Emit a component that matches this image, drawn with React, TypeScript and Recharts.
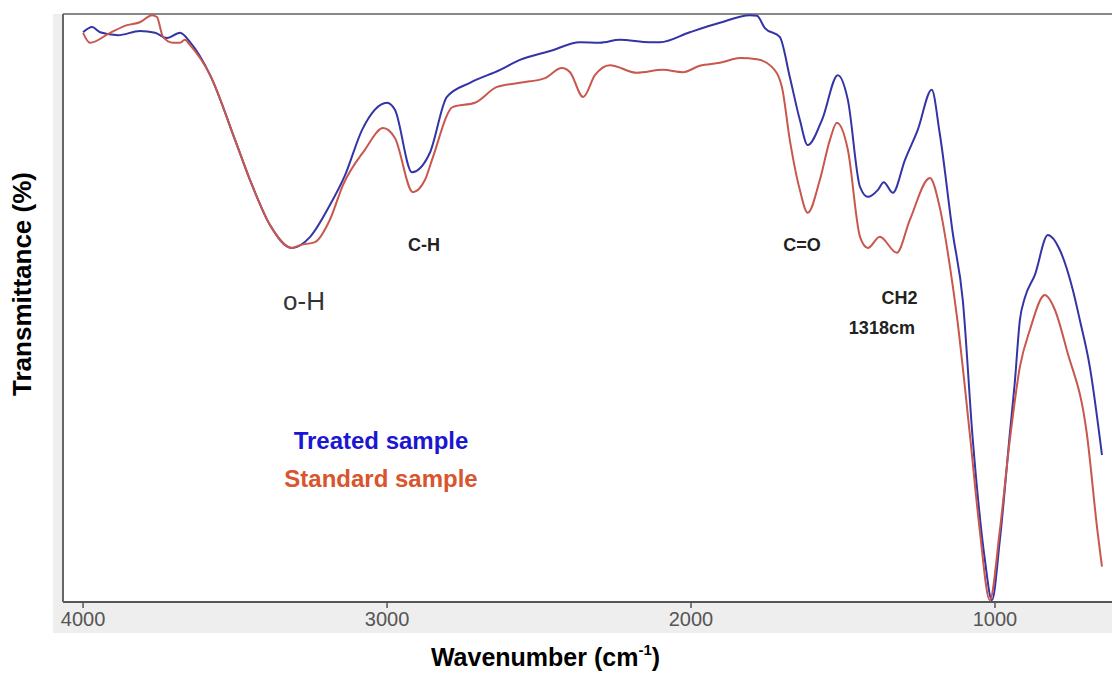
import React from 'react';
import {
  LineChart,
  Line,
  XAxis,
  YAxis,
  Legend,
  ReferenceLine,
  ReferenceDot
} from 'recharts';

// FTIR spectra: wavenumber (cm-1) vs transmittance (%)
const treatedWave = [4000, 3970, 3944, 3885, 3813, 3763, 3724, 3681, 3648, 3582, 3500, 3451, 3385, 3313, 3253, 3188, 3138, 3082, 3000, 2974, 2918, 2859, 2803, 2727, 2628, 2563, 2464, 2365, 2300, 2234, 2135, 2102, 2004, 1905, 1806, 1783, 1757, 1708, 1675, 1642, 1616, 1569, 1517, 1484, 1444, 1418, 1385, 1366, 1336, 1296, 1254, 1208, 1182, 1139, 1106, 1073, 1033, 1010, 984, 951, 935, 918, 902, 869, 826, 787, 744, 721, 688, 648];
const treatedT = [96.9, 97.8, 96.9, 96.4, 97.1, 96.8, 95.9, 96.8, 95.2, 89.6, 78.6, 71.8, 64.1, 60.2, 62.1, 67.5, 72.6, 80.3, 84.9, 83.7, 73.1, 76.4, 85.9, 88.3, 90.5, 92.2, 93.7, 95.2, 95.1, 95.6, 95.2, 95.2, 96.9, 98.5, 99.8, 99.7, 97.6, 96.1, 89.3, 82.0, 77.7, 82.0, 89.6, 85.4, 70.6, 68.9, 70.1, 71.4, 69.6, 75.2, 80.3, 87.1, 79.8, 62.8, 51.4, 27.6, 7.1, 0.3, 10.5, 28.7, 37.2, 48.0, 51.7, 55.6, 62.4, 59.9, 53.1, 48.0, 40.0, 25.0];

const standardWave = [4000, 3977, 3911, 3855, 3813, 3773, 3757, 3737, 3704, 3681, 3665, 3648, 3582, 3500, 3451, 3385, 3313, 3286, 3237, 3188, 3145, 3073, 3013, 2974, 2915, 2875, 2852, 2783, 2711, 2638, 2563, 2480, 2425, 2398, 2355, 2316, 2267, 2178, 2092, 2027, 1971, 1905, 1839, 1783, 1734, 1701, 1675, 1642, 1616, 1576, 1543, 1520, 1484, 1444, 1418, 1379, 1323, 1280, 1214, 1182, 1148, 1125, 1083, 1050, 1017, 984, 951, 918, 885, 836, 803, 764, 698, 662, 648];
const standardT = [96.8, 95.1, 96.8, 98.1, 98.6, 99.8, 99.5, 96.1, 95.1, 95.1, 95.6, 94.7, 89.6, 78.6, 71.8, 64.1, 60.2, 60.7, 61.2, 65.0, 70.9, 76.9, 80.6, 78.9, 69.7, 71.8, 75.2, 84.2, 84.9, 87.6, 88.3, 89.1, 90.8, 90.1, 85.9, 89.6, 91.3, 90.0, 90.5, 90.1, 91.2, 91.7, 92.5, 92.3, 91.0, 87.6, 78.6, 70.1, 66.2, 71.8, 78.6, 81.5, 76.9, 62.1, 60.2, 62.1, 59.4, 65.0, 72.1, 67.2, 57.0, 48.5, 28.7, 12.2, 0.3, 12.2, 27.6, 40.0, 46.3, 52.2, 49.7, 42.9, 28.7, 11.7, 6.0];

const xTicks = [4000, 3000, 2000, 1000];

// band annotations: text, wavenumber, transmittance where the text sits
const bandLabels = ['o-H', 'C-H', 'C=O', 'CH2', '1318cm'];
const bandWave = [3273, 2878, 1635, 1314, 1372];
const bandT = [51.2, 60.7, 60.7, 51.8, 46.7];

const seriesNames = ['Treated sample', 'Standard sample'];

const FONT = 'Liberation Sans, Arial, sans-serif';

const treatedData = treatedWave.map((w, i) => ({ w, t: treatedT[i] }));
const standardData = standardWave.map((w, i) => ({ w, t: standardT[i] }));

const legendColors: Record<string, string> = {
  'Treated sample': '#1a16d2',
  'Standard sample': '#d8552d'
};

const SampleLegend = ({ payload }: any) => {
  const items = [...(payload || [])].sort(
    (a: any, b: any) => seriesNames.indexOf(a.value) - seriesNames.indexOf(b.value)
  );
  return (
    <div style={{ fontFamily: FONT, fontWeight: 'bold', fontSize: 24, textAlign: 'center', width: 220 }}>
      {items.map((p: any) => (
        <div key={p.value} style={{ color: legendColors[p.value], lineHeight: '38px' }}>{p.value}</div>
      ))}
    </div>
  );
};

const YTitle = (props: any) => {
  const vb = props.viewBox || { x: 0, y: 14, width: 63, height: 588 };
  const cx = vb.x + 22;
  const cy = vb.y + vb.height / 2 - 24;
  return (
    <text
      x={cx}
      y={cy}
      transform={`rotate(-90, ${cx}, ${cy})`}
      textAnchor="middle"
      dominantBaseline="central"
      fontFamily={FONT}
      fontWeight="bold"
      fontSize={26}
      fill="#000"
    >
      Transmittance (%)
    </text>
  );
};

const XTitle = (props: any) => {
  const vb = props.viewBox || { x: 63, y: 602, width: 1049, height: 71 };
  const cx = vb.x + vb.width / 2 - 42;
  const by = vb.y + 64;
  return (
    <text x={cx} y={by} textAnchor="middle" fontFamily={FONT} fontWeight="bold" fontSize={25} fill="#000">
      Wavenumber (cm
      <tspan fontSize={15} dy={-11}>-1</tspan>
      <tspan dy={11}>)</tspan>
    </text>
  );
};

const App: React.FC = () => {
  return (
    <div style={{ position: 'absolute', left: 0, top: 0, width: 1112, height: 673, background: '#fff' }}>
      {/* light gray frame bands behind the plot */}
      <div style={{ position: 'absolute', left: 53, top: 602, width: 1059, height: 31, background: '#eeeeee' }} />
      <div style={{ position: 'absolute', left: 53, top: 14, width: 10, height: 590, background: '#eeeeee' }} />
      <div style={{ position: 'absolute', left: 0, top: 0 }}>
        <LineChart width={1112} height={673} margin={{ top: 14, right: 0, left: 0, bottom: 0 }}>
          <XAxis
            type="number"
            dataKey="w"
            domain={[615, 4066]}
            reversed
            allowDataOverflow
            ticks={xTicks}
            height={71}
            tickSize={6}
            tickMargin={4}
            tick={{ fontSize: 20, fill: '#555', fontFamily: FONT }}
            tickLine={{ stroke: '#555', strokeWidth: 1.5 }}
            axisLine={{ stroke: '#555', strokeWidth: 2 }}
            label={<XTitle />}
          />
          <YAxis
            type="number"
            domain={[0, 100]}
            allowDataOverflow
            width={63}
            tick={false}
            tickLine={false}
            axisLine={{ stroke: '#666', strokeWidth: 2 }}
            label={<YTitle />}
          />
          <ReferenceLine y={100} stroke="#888" strokeWidth={2} />
          <Legend
            layout="vertical"
            align="center"
            verticalAlign="middle"
            content={<SampleLegend />}
            wrapperStyle={{ left: 271, top: 422, width: 220 }}
          />
          <Line
            data={treatedData}
            dataKey="t"
            name={seriesNames[0]}
            type="monotone"
            stroke="#3434a6"
            strokeWidth={2}
            dot={false}
            isAnimationActive={false}
          />
          <Line
            data={standardData}
            dataKey="t"
            name={seriesNames[1]}
            type="monotone"
            stroke="#c8574d"
            strokeWidth={2}
            dot={false}
            isAnimationActive={false}
          />
          {bandLabels.map((txt, i) => (
            <ReferenceDot
              key={txt}
              x={bandWave[i]}
              y={bandT[i]}
              r={0}
              fill="none"
              stroke="none"
              label={{
                value: txt,
                position: 'center',
                fill: i === 0 ? '#333' : '#222',
                fontSize: i === 0 ? 26 : 18,
                fontWeight: i === 0 ? 'normal' : 'bold',
                fontFamily: FONT
              }}
            />
          ))}
        </LineChart>
      </div>
    </div>
  );
};

export default App;
